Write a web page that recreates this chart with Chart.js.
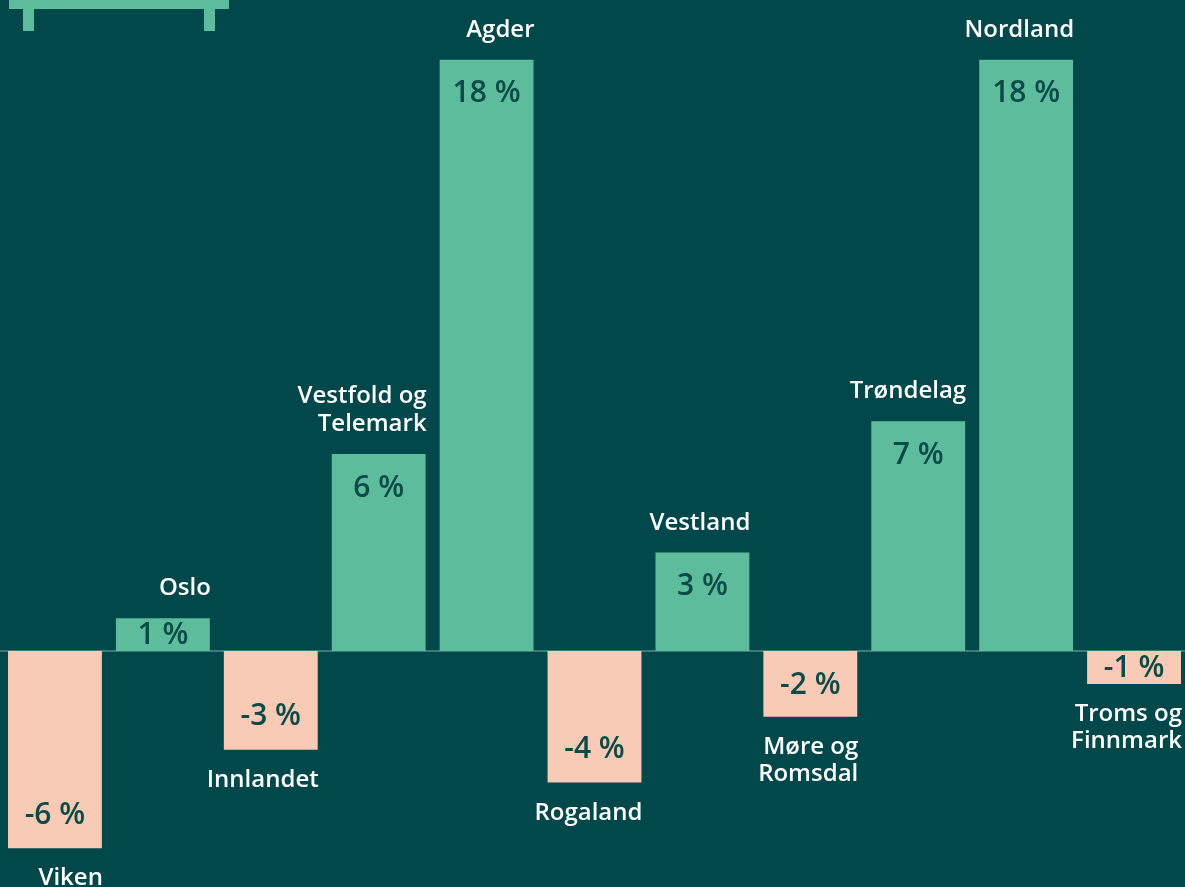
<!DOCTYPE html>
<html>
<head>
<meta charset="utf-8">
<script src="https://cdn.jsdelivr.net/npm/chart.js@4.4.0/dist/chart.umd.min.js"></script>
<style>
  html, body { margin: 0; padding: 0; background: #02474A; overflow: hidden; width: 1185px; height: 887px; }
  #wrap { position: absolute; left: 0; top: 0; width: 1189px; height: 887px; }
</style>
</head>
<body>
<div id="wrap"><canvas id="c" width="1189" height="887"></canvas></div>
<script>
const categories = ["Viken", "Oslo", "Innlandet", "Vestfold og Telemark", "Agder", "Rogaland", "Vestland", "Møre og Romsdal", "Trøndelag", "Nordland", "Troms og Finnmark"];
const labelLines = [["Viken"], ["Oslo"], ["Innlandet"], ["Vestfold og", "Telemark"], ["Agder"], ["Rogaland"], ["Vestland"], ["Møre og", "Romsdal"], ["Trøndelag"], ["Nordland"], ["Troms og", "Finnmark"]];
const values = [-6, 1, -3, 6, 18, -4, 3, -2, 7, 18, -1];
const yMin = -7.18;
const yMax = 19.82;

const BG = "#02474A";
const GREEN = "#5CBC9C";
const PINK = "#F9CAB6";
const VALUE_TEXT = "#0A4A47";
const FONT = "'Open Sans', 'Noto Sans', sans-serif";

const labelPlugin = {
  id: "barLabels",
  beforeDatasetsDraw(chart) {
    const ctx = chart.ctx;
    const y0 = chart.scales.y.getPixelForValue(0);
    ctx.save();
    ctx.fillStyle = "#3D7C77";
    ctx.fillRect(chart.chartArea.left - 1, Math.round(y0) - 1, chart.chartArea.right - chart.chartArea.left + 2, 2);
    ctx.restore();
  },
  afterDatasetsDraw(chart) {
    const ctx = chart.ctx;
    const meta = chart.getDatasetMeta(0);
    ctx.save();
    meta.data.forEach((bar, i) => {
      const v = values[i];
      const top = Math.min(bar.y, bar.base);
      const bottom = Math.max(bar.y, bar.base);
      const h = bottom - top;
      // value label
      let cy;
      if (v >= 0) cy = h > 66 ? top + 33 : (top + bottom) / 2;
      else cy = h > 68 ? bottom - 34 : (top + bottom) / 2;
      ctx.font = "600 30px " + FONT;
      ctx.fillStyle = VALUE_TEXT;
      ctx.textAlign = "center";
      ctx.textBaseline = "middle";
      ctx.fillText(v + " %", bar.x, cy + 1);
      // category label
      const lines = labelLines[i];
      ctx.font = "600 24px " + FONT;
      ctx.fillStyle = "#FFFFFF";
      ctx.textAlign = "right";
      ctx.textBaseline = "alphabetic";
      const rx = bar.x + bar.width / 2 + 1;
      const lh = 28;
      if (v >= 0) {
        const lastBase = top - 23;
        lines.forEach((ln, k) => {
          ctx.fillText(ln, rx, lastBase - (lines.length - 1 - k) * lh);
        });
      } else {
        const firstBase = bottom + 37;
        lines.forEach((ln, k) => {
          ctx.fillText(ln, rx, firstBase + k * 27);
        });
      }
    });
    ctx.restore();
  },
  afterDraw(chart) {
    // decorative bracket at top-left
    const ctx = chart.ctx;
    ctx.save();
    ctx.fillStyle = GREEN;
    ctx.fillRect(9, 0, 220, 9);
    ctx.fillRect(23, 0, 11, 31);
    ctx.fillRect(204, 0, 11, 31);
    ctx.restore();
  }
};

new Chart(document.getElementById("c"), {
  type: "bar",
  data: {
    labels: categories,
    datasets: [{
      data: values,
      backgroundColor: values.map(v => v >= 0 ? GREEN : PINK),
      borderWidth: 0,
      categoryPercentage: 1,
      barPercentage: 0.87
    }]
  },
  options: {
    responsive: false,
    animation: false,
    layout: { padding: { left: 1, right: 1, top: 0, bottom: 0 } },
    plugins: { legend: { display: false }, tooltip: { enabled: false } },
    scales: {
      x: { display: false },
      y: { display: false, min: yMin, max: yMax }
    }
  },
  plugins: [labelPlugin]
});
</script>
</body>
</html>
